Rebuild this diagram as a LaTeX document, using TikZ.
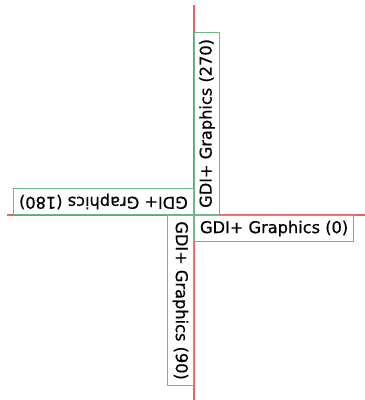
\documentclass[tikz,border=0pt]{standalone}
\usepackage{fontspec}
\setmainfont[FakeBold=0.6]{DejaVu Sans}
\definecolor{axisred}{HTML}{F06060}
\definecolor{boxgreen}{HTML}{6CB888}
\begin{document}
\begin{tikzpicture}[x=1pt,y=-1pt,
  axis/.style={draw=axisred,line width=1.3pt},
  gbox/.style={draw=boxgreen,line width=1.2pt,fill=white,anchor=north west,
    inner sep=0pt,minimum height=26pt,font=\fontsize{16.2}{18}\selectfont}]
\useasboundingbox (0,0) rectangle (365,400);
\coordinate (O) at (194,215);
\coordinate (hl) at (7,215);
\coordinate (hr) at (365,215);
\coordinate (vt) at (194,5);
\coordinate (vb) at (194,400);
\draw[axis] (hl) -- (hr);
\draw[axis] (vt) -- (vb);
\node[gbox,minimum width=159pt] (b0) at (O) {GDI+ Graphics (0)};
\node[gbox,minimum width=170pt,rotate=-90] (b90) at (O) {GDI+ Graphics (90)};
\node[gbox,minimum width=180pt,rotate=180] (b180) at (O) {GDI+ Graphics (180)};
\node[gbox,minimum width=182pt,minimum height=25pt,rotate=90] (b270) at (O) {GDI+ Graphics (270)};
\end{tikzpicture}
\end{document}
